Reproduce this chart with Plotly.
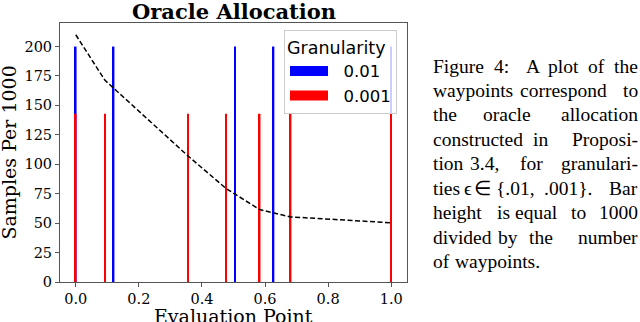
import plotly.graph_objects as go

# waypoints for each granularity (bar height = 1000 / number of waypoints)
coarse_x = [0.0, 0.12, 0.505, 0.627, 1.0]
coarse_h = [200, 200, 200, 200, 200]
fine_x = [0.0, 0.092, 0.356, 0.476, 0.583, 0.681, 1.0]
fine_h = [142.9, 142.9, 142.9, 142.9, 142.9, 142.9, 142.9]

# oracle allocation density (dashed curve)
curve_x = [0.0, 0.092, 0.356, 0.476, 0.583, 0.681, 1.0]
curve_y = [210, 171.5, 107, 79.5, 61.5, 55.3, 50.3]

# caption, line by line (justified as in the paper)
caption_lines = [
    ["Figure", "4:", "A", "plot", "of", "the"],
    ["waypoints", "correspond", "to"],
    ["the", "oracle", "allocation"],
    ["constructed", "in", "Proposi-"],
    ["tion", "3.4,", "for", "granulari-"],
    ["ties", "\u03f5", "\u2208", "{.01,", ".001}.", "Bar"],
    ["height", "is", "equal", "to", "1000"],
    ["divided", "by", "the", "number"],
    ["of", "waypoints."],
]
# centre of each inner word (px); first word starts at the left edge,
# last word ends at the right edge (justified)
caption_mid_x = [
    [502, 532.5, 563.3, 596],
    [563],
    [506.7],
    [540],
    [484.5, 531],
    [467.8, 482, 515, 568],
    [503, 536, 578],
    [507.5, 541],
    [],
]

BLUE = "#0000ff"
RED = "#ff0000"
SERIF = "DejaVu Serif"
SANS = "DejaVu Sans"
CAPTION_FONT = "Liberation Serif"
NB = "\u00a0\u00a0"

fig = go.Figure()
fig.add_trace(go.Bar(x=coarse_x, y=coarse_h, width=0.005, marker_color=BLUE,
                     marker_line_width=0, showlegend=False))
fig.add_trace(go.Bar(x=fine_x, y=fine_h, width=0.005, marker_color=RED,
                     marker_line_width=0, showlegend=False))
fig.add_trace(go.Scatter(x=curve_x, y=curve_y, mode="lines",
                         line=dict(color="black", width=1.5, dash="5px,2.5px"),
                         showlegend=False))
# legend proxies (wide patches)
fig.add_trace(go.Scatter(x=[None], y=[None], mode="lines", name=NB + "0.01",
                         line=dict(color=BLUE, width=12)))
fig.add_trace(go.Scatter(x=[None], y=[None], mode="lines", name=NB + "0.001",
                         line=dict(color=RED, width=12)))

# plot area in pixels: x 60..407, y 23..282
def py(p):
    return (282 - p) / 259

def px(p):
    return (p - 60) / 347

annotations = [
    dict(text="<b>Oracle Allocation</b>", x=px(233.5), y=py(11), xref="paper", yref="paper",
         xanchor="center", yanchor="middle", showarrow=False,
         font=dict(family=SERIF, size=21, color="black")),
    dict(text="Evaluation Point", x=0.5, y=py(316), xref="paper", yref="paper",
         xanchor="center", yanchor="middle", showarrow=False,
         font=dict(family=SERIF, size=19, color="black")),
    dict(text="Samples Per 1000", x=px(8), y=0.5, xref="paper", yref="paper",
         xanchor="center", yanchor="middle", textangle=-90, showarrow=False,
         font=dict(family=SERIF, size=19, color="black")),
]
base0 = 71
last = len(caption_lines) - 1
for i, (words, mids) in enumerate(zip(caption_lines, caption_mid_x)):
    y = py(base0 + 24.45 * i - 5)
    for j, w in enumerate(words):
        if j == 0 or i == last:
            x, anchor = (431 if j == 0 else 453), "left"
        elif j == len(words) - 1:
            x, anchor = 640, "right"
        else:
            x, anchor = mids[j - 1], "center"
        annotations.append(dict(
            text=w, x=px(x), y=y, xref="paper", yref="paper",
            xanchor=anchor, yanchor="middle", showarrow=False,
            font=dict(family=CAPTION_FONT, size=19.5, color="black")))

fig.update_layout(
    width=640, height=322,
    margin=dict(l=60, r=233, t=23, b=40),
    paper_bgcolor="white",
    plot_bgcolor="white",
    barmode="overlay",
    xaxis=dict(range=[-0.05, 1.05], tickvals=[0, 0.2, 0.4, 0.6, 0.8, 1.0],
               tickformat=".1f", showgrid=False, zeroline=False,
               showline=True, mirror=True, linecolor="#555", linewidth=1,
               ticks="outside", ticklen=4, tickcolor="#555",
               tickfont=dict(family=SERIF, size=14.5, color="black")),
    yaxis=dict(range=[0, 220], tickvals=[0, 25, 50, 75, 100, 125, 150, 175, 200],
               showgrid=False, zeroline=False,
               showline=True, mirror=True, linecolor="#555", linewidth=1,
               ticks="outside", ticklen=4, tickcolor="#555",
               tickfont=dict(family=SERIF, size=14.5, color="black")),
    legend=dict(x=px(284), y=py(30), xanchor="left", yanchor="top",
                bgcolor="rgba(255,255,255,0.8)", bordercolor="#cccccc", borderwidth=1,
                itemwidth=38,
                title=dict(text="Granularity", font=dict(family=SANS, size=17.5, color="black")),
                font=dict(family=SANS, size=16.5, color="black")),
    annotations=annotations,
)

fig.write_html("out.html", config={"displayModeBar": False},
               post_script="document.body.style.margin='0';")
